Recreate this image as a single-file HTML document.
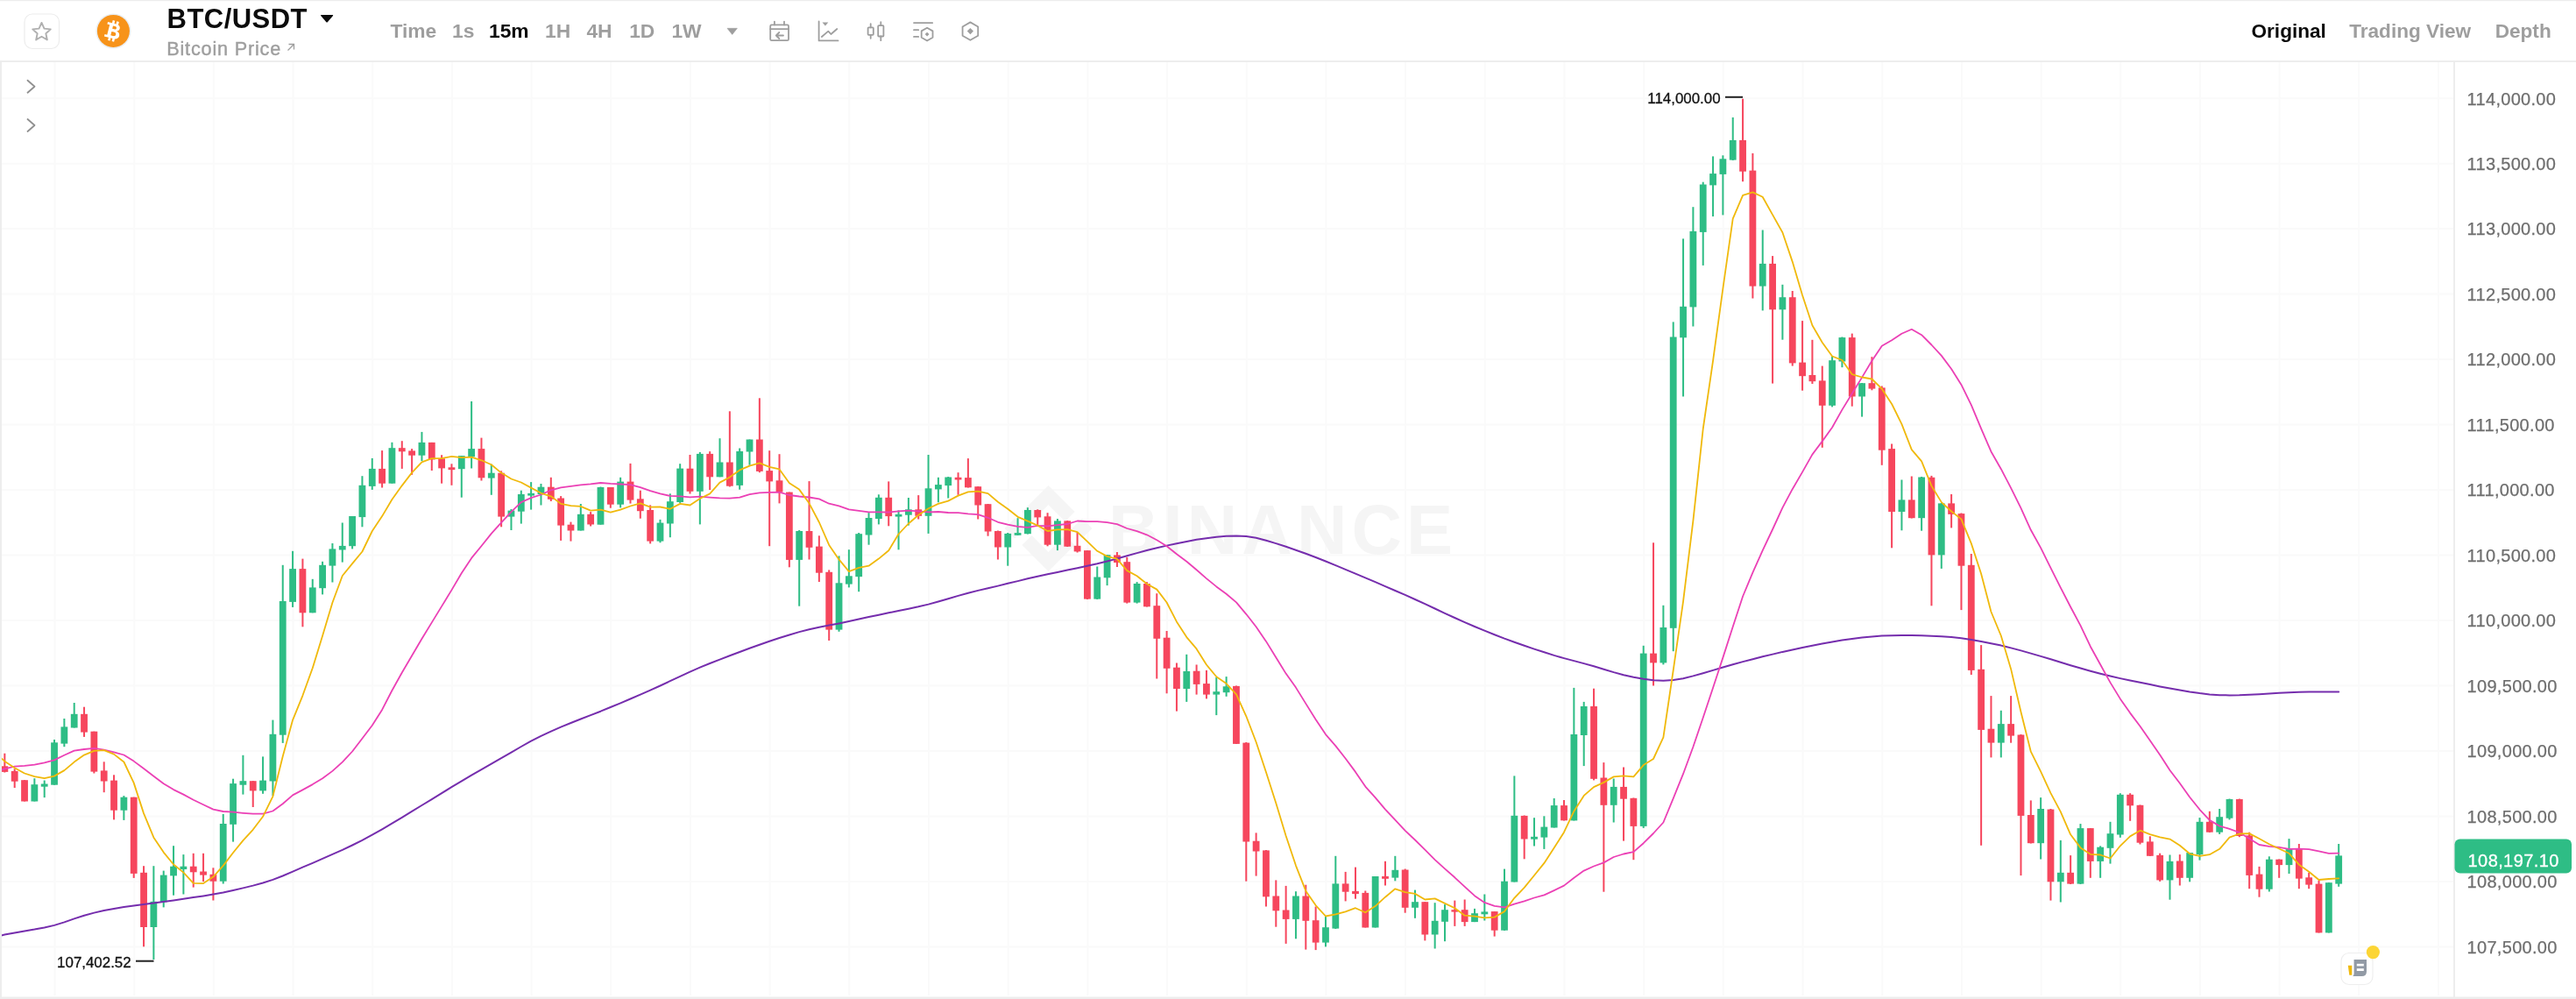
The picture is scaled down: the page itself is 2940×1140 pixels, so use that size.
<!DOCTYPE html>
<html><head><meta charset="utf-8"><title>BTC/USDT</title>
<style>html,body{margin:0;padding:0;background:#fff;width:2940px;height:1140px;overflow:hidden;font-family:"Liberation Sans",sans-serif}</style>
</head><body>
<svg width="2940" height="1140" viewBox="0 0 2940 1140" style="position:absolute;left:0;top:0;will-change:transform">
<rect width="2940" height="1140" fill="#fff"/>
<g stroke="#FAFAFA" stroke-width="2">
<line x1="62.5" y1="71" x2="62.5" y2="1136"/>
<line x1="153.2" y1="71" x2="153.2" y2="1136"/>
<line x1="243.8" y1="71" x2="243.8" y2="1136"/>
<line x1="334.5" y1="71" x2="334.5" y2="1136"/>
<line x1="425.2" y1="71" x2="425.2" y2="1136"/>
<line x1="515.9" y1="71" x2="515.9" y2="1136"/>
<line x1="606.6" y1="71" x2="606.6" y2="1136"/>
<line x1="697.3" y1="71" x2="697.3" y2="1136"/>
<line x1="787.9" y1="71" x2="787.9" y2="1136"/>
<line x1="878.6" y1="71" x2="878.6" y2="1136"/>
<line x1="969.3" y1="71" x2="969.3" y2="1136"/>
<line x1="1060.0" y1="71" x2="1060.0" y2="1136"/>
<line x1="1150.7" y1="71" x2="1150.7" y2="1136"/>
<line x1="1241.4" y1="71" x2="1241.4" y2="1136"/>
<line x1="1332.1" y1="71" x2="1332.1" y2="1136"/>
<line x1="1422.7" y1="71" x2="1422.7" y2="1136"/>
<line x1="1513.4" y1="71" x2="1513.4" y2="1136"/>
<line x1="1604.1" y1="71" x2="1604.1" y2="1136"/>
<line x1="1694.8" y1="71" x2="1694.8" y2="1136"/>
<line x1="1785.5" y1="71" x2="1785.5" y2="1136"/>
<line x1="1876.2" y1="71" x2="1876.2" y2="1136"/>
<line x1="1966.8" y1="71" x2="1966.8" y2="1136"/>
<line x1="2057.5" y1="71" x2="2057.5" y2="1136"/>
<line x1="2148.2" y1="71" x2="2148.2" y2="1136"/>
<line x1="2238.9" y1="71" x2="2238.9" y2="1136"/>
<line x1="2329.6" y1="71" x2="2329.6" y2="1136"/>
<line x1="2420.3" y1="71" x2="2420.3" y2="1136"/>
<line x1="2510.9" y1="71" x2="2510.9" y2="1136"/>
<line x1="2601.6" y1="71" x2="2601.6" y2="1136"/>
<line x1="2692.3" y1="71" x2="2692.3" y2="1136"/>
<line x1="2783.0" y1="71" x2="2783.0" y2="1136"/>
<line x1="2" y1="112.2" x2="2800" y2="112.2"/>
<line x1="2" y1="186.7" x2="2800" y2="186.7"/>
<line x1="2" y1="261.1" x2="2800" y2="261.1"/>
<line x1="2" y1="335.6" x2="2800" y2="335.6"/>
<line x1="2" y1="410.1" x2="2800" y2="410.1"/>
<line x1="2" y1="484.6" x2="2800" y2="484.6"/>
<line x1="2" y1="559.1" x2="2800" y2="559.1"/>
<line x1="2" y1="633.6" x2="2800" y2="633.6"/>
<line x1="2" y1="708.1" x2="2800" y2="708.1"/>
<line x1="2" y1="782.6" x2="2800" y2="782.6"/>
<line x1="2" y1="857.1" x2="2800" y2="857.1"/>
<line x1="2" y1="931.6" x2="2800" y2="931.6"/>
<line x1="2" y1="1006.1" x2="2800" y2="1006.1"/>
<line x1="2" y1="1080.6" x2="2800" y2="1080.6"/>
</g>
<g fill="#F5F5F5">
<path d="M1196.5,554 L1226.5,584 L1215.5,595 L1196.5,576 L1177.5,595 L1166.5,584 Z"/>
<path d="M1196.5,652 L1226.5,622 L1215.5,611 L1196.5,630 L1177.5,611 L1166.5,622 Z"/>
<path d="M1196.5,591.5 L1208.0,603 L1196.5,614.5 L1185.0,603 Z"/>
<path d="M1158.0,591.5 L1169.5,603 L1158.0,614.5 L1146.5,603 Z"/>
<path d="M1235.0,591.5 L1246.5,603 L1235.0,614.5 L1223.5,603 Z"/>
<text x="1265" y="632.2" font-family="Liberation Sans, sans-serif" font-weight="bold" font-size="79.6" letter-spacing="5.1">BINANCE</text>
</g>
<rect x="4.35" y="859.7" width="2" height="21.8" fill="#F6465D"/>
<rect x="1.45" y="874.3" width="7.8" height="6.6" fill="#F6465D"/>
<rect x="15.69" y="877.3" width="2" height="21.7" fill="#F6465D"/>
<rect x="12.79" y="879.9" width="7.8" height="11.8" fill="#F6465D"/>
<rect x="27.02" y="890.2" width="2" height="24.3" fill="#F6465D"/>
<rect x="24.12" y="890.2" width="7.8" height="24.3" fill="#F6465D"/>
<rect x="38.36" y="888.2" width="2" height="26.3" fill="#2EBD85"/>
<rect x="35.46" y="895.2" width="7.8" height="19.3" fill="#2EBD85"/>
<rect x="49.69" y="890.5" width="2" height="19.6" fill="#2EBD85"/>
<rect x="46.79" y="894.5" width="7.8" height="3.2" fill="#2EBD85"/>
<rect x="61.03" y="844.0" width="2" height="51.7" fill="#2EBD85"/>
<rect x="58.13" y="847.3" width="7.8" height="48.4" fill="#2EBD85"/>
<rect x="72.36" y="820.0" width="2" height="32.2" fill="#2EBD85"/>
<rect x="69.46" y="829.4" width="7.8" height="19.2" fill="#2EBD85"/>
<rect x="83.70" y="802.0" width="2" height="28.5" fill="#2EBD85"/>
<rect x="80.80" y="814.8" width="7.8" height="15.7" fill="#2EBD85"/>
<rect x="95.03" y="806.7" width="2" height="34.2" fill="#F6465D"/>
<rect x="92.13" y="814.8" width="7.8" height="20.8" fill="#F6465D"/>
<rect x="106.37" y="834.7" width="2" height="47.8" fill="#F6465D"/>
<rect x="103.47" y="834.7" width="7.8" height="45.9" fill="#F6465D"/>
<rect x="117.70" y="869.3" width="2" height="34.9" fill="#F6465D"/>
<rect x="114.80" y="879.4" width="7.8" height="12.1" fill="#F6465D"/>
<rect x="129.04" y="884.3" width="2" height="51.1" fill="#F6465D"/>
<rect x="126.14" y="890.6" width="7.8" height="34.1" fill="#F6465D"/>
<rect x="140.38" y="908.1" width="2" height="27.8" fill="#2EBD85"/>
<rect x="137.48" y="909.7" width="7.8" height="15.0" fill="#2EBD85"/>
<rect x="151.71" y="909.7" width="2" height="92.2" fill="#F6465D"/>
<rect x="148.81" y="909.7" width="7.8" height="87.2" fill="#F6465D"/>
<rect x="163.05" y="988.2" width="2" height="92.1" fill="#F6465D"/>
<rect x="160.15" y="995.8" width="7.8" height="62.2" fill="#F6465D"/>
<rect x="174.38" y="988.2" width="2" height="106.8" fill="#2EBD85"/>
<rect x="171.48" y="1028.8" width="7.8" height="29.2" fill="#2EBD85"/>
<rect x="185.72" y="993.6" width="2" height="41.8" fill="#2EBD85"/>
<rect x="182.82" y="998.6" width="7.8" height="30.9" fill="#2EBD85"/>
<rect x="197.05" y="965.2" width="2" height="56.5" fill="#2EBD85"/>
<rect x="194.15" y="988.7" width="7.8" height="10.7" fill="#2EBD85"/>
<rect x="208.39" y="975.1" width="2" height="45.4" fill="#2EBD85"/>
<rect x="205.49" y="988.7" width="7.8" height="3.3" fill="#2EBD85"/>
<rect x="219.72" y="973.8" width="2" height="38.8" fill="#F6465D"/>
<rect x="216.82" y="988.7" width="7.8" height="6.6" fill="#F6465D"/>
<rect x="231.06" y="973.8" width="2" height="32.2" fill="#F6465D"/>
<rect x="228.16" y="994.5" width="7.8" height="4.1" fill="#F6465D"/>
<rect x="242.40" y="990.3" width="2" height="37.2" fill="#F6465D"/>
<rect x="239.50" y="997.8" width="7.8" height="7.9" fill="#F6465D"/>
<rect x="253.73" y="929.0" width="2" height="79.5" fill="#2EBD85"/>
<rect x="250.83" y="940.0" width="7.8" height="65.7" fill="#2EBD85"/>
<rect x="265.07" y="888.7" width="2" height="71.9" fill="#2EBD85"/>
<rect x="262.17" y="894.1" width="7.8" height="46.7" fill="#2EBD85"/>
<rect x="276.40" y="861.8" width="2" height="44.8" fill="#2EBD85"/>
<rect x="273.50" y="891.2" width="7.8" height="4.5" fill="#2EBD85"/>
<rect x="287.74" y="891.2" width="2" height="29.8" fill="#F6465D"/>
<rect x="284.84" y="891.2" width="7.8" height="11.2" fill="#F6465D"/>
<rect x="299.07" y="863.4" width="2" height="42.4" fill="#2EBD85"/>
<rect x="296.17" y="890.6" width="7.8" height="11.8" fill="#2EBD85"/>
<rect x="310.41" y="821.6" width="2" height="86.5" fill="#2EBD85"/>
<rect x="307.51" y="837.8" width="7.8" height="53.7" fill="#2EBD85"/>
<rect x="321.74" y="644.8" width="2" height="203.1" fill="#2EBD85"/>
<rect x="318.84" y="686.0" width="7.8" height="152.7" fill="#2EBD85"/>
<rect x="333.08" y="628.8" width="2" height="64.1" fill="#2EBD85"/>
<rect x="330.18" y="649.1" width="7.8" height="37.8" fill="#2EBD85"/>
<rect x="344.42" y="637.6" width="2" height="77.7" fill="#F6465D"/>
<rect x="341.52" y="649.1" width="7.8" height="50.2" fill="#F6465D"/>
<rect x="355.75" y="660.8" width="2" height="38.5" fill="#2EBD85"/>
<rect x="352.85" y="670.4" width="7.8" height="28.9" fill="#2EBD85"/>
<rect x="367.09" y="640.8" width="2" height="37.6" fill="#2EBD85"/>
<rect x="364.19" y="644.8" width="7.8" height="26.4" fill="#2EBD85"/>
<rect x="378.42" y="620.0" width="2" height="44.5" fill="#2EBD85"/>
<rect x="375.52" y="626.4" width="7.8" height="19.2" fill="#2EBD85"/>
<rect x="389.76" y="596.5" width="2" height="45.1" fill="#2EBD85"/>
<rect x="386.86" y="622.9" width="7.8" height="4.6" fill="#2EBD85"/>
<rect x="401.09" y="589.0" width="2" height="37.4" fill="#2EBD85"/>
<rect x="398.19" y="589.0" width="7.8" height="34.2" fill="#2EBD85"/>
<rect x="412.43" y="543.2" width="2" height="58.1" fill="#2EBD85"/>
<rect x="409.53" y="553.8" width="7.8" height="36.3" fill="#2EBD85"/>
<rect x="423.76" y="522.9" width="2" height="36.0" fill="#2EBD85"/>
<rect x="420.86" y="534.9" width="7.8" height="20.0" fill="#2EBD85"/>
<rect x="435.10" y="514.1" width="2" height="42.4" fill="#F6465D"/>
<rect x="432.20" y="534.9" width="7.8" height="16.8" fill="#F6465D"/>
<rect x="446.43" y="504.8" width="2" height="46.9" fill="#2EBD85"/>
<rect x="443.53" y="511.2" width="7.8" height="40.5" fill="#2EBD85"/>
<rect x="457.77" y="503.2" width="2" height="31.7" fill="#F6465D"/>
<rect x="454.87" y="511.2" width="7.8" height="4.1" fill="#F6465D"/>
<rect x="469.11" y="512.1" width="2" height="29.7" fill="#F6465D"/>
<rect x="466.21" y="514.4" width="7.8" height="5.3" fill="#F6465D"/>
<rect x="480.44" y="492.9" width="2" height="33.2" fill="#2EBD85"/>
<rect x="477.54" y="504.9" width="7.8" height="14.8" fill="#2EBD85"/>
<rect x="491.78" y="504.9" width="2" height="32.1" fill="#F6465D"/>
<rect x="488.88" y="504.9" width="7.8" height="19.6" fill="#F6465D"/>
<rect x="503.11" y="519.2" width="2" height="32.5" fill="#F6465D"/>
<rect x="500.21" y="523.3" width="7.8" height="11.1" fill="#F6465D"/>
<rect x="514.45" y="529.3" width="2" height="24.5" fill="#F6465D"/>
<rect x="511.55" y="533.3" width="7.8" height="2.8" fill="#F6465D"/>
<rect x="525.78" y="520.1" width="2" height="47.6" fill="#2EBD85"/>
<rect x="522.88" y="520.1" width="7.8" height="15.1" fill="#2EBD85"/>
<rect x="537.12" y="458.0" width="2" height="76.5" fill="#2EBD85"/>
<rect x="534.22" y="512.1" width="7.8" height="9.2" fill="#2EBD85"/>
<rect x="548.45" y="499.6" width="2" height="48.9" fill="#F6465D"/>
<rect x="545.55" y="512.1" width="7.8" height="33.2" fill="#F6465D"/>
<rect x="559.79" y="529.7" width="2" height="35.1" fill="#2EBD85"/>
<rect x="556.89" y="539.7" width="7.8" height="5.9" fill="#2EBD85"/>
<rect x="571.12" y="537.3" width="2" height="64.0" fill="#F6465D"/>
<rect x="568.23" y="539.7" width="7.8" height="49.9" fill="#F6465D"/>
<rect x="582.46" y="581.0" width="2" height="24.0" fill="#2EBD85"/>
<rect x="579.56" y="582.6" width="7.8" height="7.0" fill="#2EBD85"/>
<rect x="593.80" y="559.7" width="2" height="37.9" fill="#2EBD85"/>
<rect x="590.90" y="564.0" width="7.8" height="19.7" fill="#2EBD85"/>
<rect x="605.13" y="550.1" width="2" height="31.5" fill="#2EBD85"/>
<rect x="602.23" y="562.9" width="7.8" height="2.7" fill="#2EBD85"/>
<rect x="616.47" y="552.0" width="2" height="24.5" fill="#2EBD85"/>
<rect x="613.57" y="555.7" width="7.8" height="8.3" fill="#2EBD85"/>
<rect x="627.80" y="544.8" width="2" height="27.2" fill="#F6465D"/>
<rect x="624.90" y="555.7" width="7.8" height="14.1" fill="#F6465D"/>
<rect x="639.14" y="566.1" width="2" height="50.8" fill="#F6465D"/>
<rect x="636.24" y="568.5" width="7.8" height="31.1" fill="#F6465D"/>
<rect x="650.47" y="595.6" width="2" height="22.0" fill="#F6465D"/>
<rect x="647.57" y="598.7" width="7.8" height="6.8" fill="#F6465D"/>
<rect x="661.81" y="575.0" width="2" height="30.5" fill="#2EBD85"/>
<rect x="658.91" y="586.8" width="7.8" height="18.7" fill="#2EBD85"/>
<rect x="673.14" y="584.1" width="2" height="16.4" fill="#F6465D"/>
<rect x="670.24" y="586.8" width="7.8" height="11.7" fill="#F6465D"/>
<rect x="684.48" y="555.5" width="2" height="43.2" fill="#2EBD85"/>
<rect x="681.58" y="556.0" width="7.8" height="42.7" fill="#2EBD85"/>
<rect x="695.82" y="556.0" width="2" height="23.7" fill="#F6465D"/>
<rect x="692.92" y="556.0" width="7.8" height="19.7" fill="#F6465D"/>
<rect x="707.15" y="544.8" width="2" height="34.6" fill="#2EBD85"/>
<rect x="704.25" y="549.6" width="7.8" height="26.1" fill="#2EBD85"/>
<rect x="718.49" y="528.9" width="2" height="45.7" fill="#F6465D"/>
<rect x="715.59" y="549.6" width="7.8" height="21.0" fill="#F6465D"/>
<rect x="729.82" y="559.7" width="2" height="32.0" fill="#F6465D"/>
<rect x="726.92" y="569.3" width="7.8" height="13.9" fill="#F6465D"/>
<rect x="741.16" y="576.4" width="2" height="44.0" fill="#F6465D"/>
<rect x="738.26" y="582.0" width="7.8" height="35.6" fill="#F6465D"/>
<rect x="752.49" y="592.9" width="2" height="26.4" fill="#2EBD85"/>
<rect x="749.59" y="596.6" width="7.8" height="21.0" fill="#2EBD85"/>
<rect x="763.83" y="563.3" width="2" height="49.9" fill="#2EBD85"/>
<rect x="760.93" y="572.2" width="7.8" height="25.3" fill="#2EBD85"/>
<rect x="775.16" y="529.2" width="2" height="44.7" fill="#2EBD85"/>
<rect x="772.26" y="534.6" width="7.8" height="38.4" fill="#2EBD85"/>
<rect x="786.50" y="519.0" width="2" height="44.5" fill="#F6465D"/>
<rect x="783.60" y="534.7" width="7.8" height="26.1" fill="#F6465D"/>
<rect x="797.84" y="515.9" width="2" height="82.5" fill="#2EBD85"/>
<rect x="794.94" y="517.9" width="7.8" height="42.9" fill="#2EBD85"/>
<rect x="809.17" y="515.1" width="2" height="43.9" fill="#F6465D"/>
<rect x="806.27" y="517.9" width="7.8" height="26.4" fill="#F6465D"/>
<rect x="820.51" y="500.2" width="2" height="44.1" fill="#2EBD85"/>
<rect x="817.61" y="527.5" width="7.8" height="16.8" fill="#2EBD85"/>
<rect x="831.84" y="469.3" width="2" height="86.2" fill="#F6465D"/>
<rect x="828.94" y="527.5" width="7.8" height="27.2" fill="#F6465D"/>
<rect x="843.18" y="511.5" width="2" height="47.2" fill="#2EBD85"/>
<rect x="840.28" y="515.0" width="7.8" height="38.9" fill="#2EBD85"/>
<rect x="854.51" y="501.5" width="2" height="29.2" fill="#2EBD85"/>
<rect x="851.61" y="501.5" width="7.8" height="14.0" fill="#2EBD85"/>
<rect x="865.85" y="454.3" width="2" height="84.9" fill="#F6465D"/>
<rect x="862.95" y="501.5" width="7.8" height="36.4" fill="#F6465D"/>
<rect x="877.18" y="514.2" width="2" height="109.0" fill="#F6465D"/>
<rect x="874.28" y="537.1" width="7.8" height="12.3" fill="#F6465D"/>
<rect x="888.52" y="518.2" width="2" height="56.2" fill="#F6465D"/>
<rect x="885.62" y="548.3" width="7.8" height="13.3" fill="#F6465D"/>
<rect x="899.85" y="561.6" width="2" height="85.7" fill="#F6465D"/>
<rect x="896.95" y="561.6" width="7.8" height="77.3" fill="#F6465D"/>
<rect x="911.19" y="605.0" width="2" height="86.7" fill="#2EBD85"/>
<rect x="908.29" y="606.0" width="7.8" height="32.9" fill="#2EBD85"/>
<rect x="922.53" y="549.1" width="2" height="89.4" fill="#F6465D"/>
<rect x="919.63" y="606.0" width="7.8" height="18.8" fill="#F6465D"/>
<rect x="933.86" y="611.3" width="2" height="52.7" fill="#F6465D"/>
<rect x="930.96" y="623.6" width="7.8" height="30.1" fill="#F6465D"/>
<rect x="945.20" y="650.4" width="2" height="80.6" fill="#F6465D"/>
<rect x="942.30" y="652.8" width="7.8" height="65.8" fill="#F6465D"/>
<rect x="956.53" y="634.4" width="2" height="86.4" fill="#2EBD85"/>
<rect x="953.63" y="665.3" width="7.8" height="53.3" fill="#2EBD85"/>
<rect x="967.87" y="627.2" width="2" height="43.2" fill="#2EBD85"/>
<rect x="964.97" y="657.3" width="7.8" height="9.3" fill="#2EBD85"/>
<rect x="979.20" y="608.0" width="2" height="67.2" fill="#2EBD85"/>
<rect x="976.30" y="609.2" width="7.8" height="48.9" fill="#2EBD85"/>
<rect x="990.54" y="585.1" width="2" height="36.6" fill="#2EBD85"/>
<rect x="987.64" y="591.0" width="7.8" height="19.5" fill="#2EBD85"/>
<rect x="1001.87" y="564.3" width="2" height="34.1" fill="#2EBD85"/>
<rect x="998.97" y="567.8" width="7.8" height="24.2" fill="#2EBD85"/>
<rect x="1013.21" y="549.4" width="2" height="50.9" fill="#F6465D"/>
<rect x="1010.31" y="567.8" width="7.8" height="21.3" fill="#F6465D"/>
<rect x="1024.54" y="582.4" width="2" height="44.9" fill="#2EBD85"/>
<rect x="1021.64" y="586.9" width="7.8" height="2.7" fill="#2EBD85"/>
<rect x="1035.88" y="568.0" width="2" height="31.6" fill="#2EBD85"/>
<rect x="1032.98" y="581.3" width="7.8" height="6.4" fill="#2EBD85"/>
<rect x="1047.22" y="565.1" width="2" height="27.4" fill="#F6465D"/>
<rect x="1044.32" y="581.3" width="7.8" height="7.5" fill="#F6465D"/>
<rect x="1058.55" y="519.0" width="2" height="89.9" fill="#2EBD85"/>
<rect x="1055.65" y="557.3" width="7.8" height="31.5" fill="#2EBD85"/>
<rect x="1069.89" y="544.8" width="2" height="28.5" fill="#2EBD85"/>
<rect x="1066.99" y="553.1" width="7.8" height="5.3" fill="#2EBD85"/>
<rect x="1081.22" y="544.0" width="2" height="24.5" fill="#2EBD85"/>
<rect x="1078.32" y="544.5" width="7.8" height="9.6" fill="#2EBD85"/>
<rect x="1092.56" y="539.2" width="2" height="25.6" fill="#F6465D"/>
<rect x="1089.66" y="544.8" width="7.8" height="2.7" fill="#F6465D"/>
<rect x="1103.89" y="523.1" width="2" height="33.4" fill="#F6465D"/>
<rect x="1100.99" y="545.1" width="7.8" height="11.2" fill="#F6465D"/>
<rect x="1115.23" y="555.0" width="2" height="37.5" fill="#F6465D"/>
<rect x="1112.33" y="555.2" width="7.8" height="21.3" fill="#F6465D"/>
<rect x="1126.56" y="575.0" width="2" height="36.7" fill="#F6465D"/>
<rect x="1123.66" y="575.2" width="7.8" height="31.3" fill="#F6465D"/>
<rect x="1137.90" y="605.5" width="2" height="33.0" fill="#F6465D"/>
<rect x="1135.00" y="606.0" width="7.8" height="18.5" fill="#F6465D"/>
<rect x="1149.24" y="608.0" width="2" height="37.7" fill="#2EBD85"/>
<rect x="1146.34" y="608.9" width="7.8" height="15.6" fill="#2EBD85"/>
<rect x="1160.57" y="591.2" width="2" height="19.8" fill="#2EBD85"/>
<rect x="1157.67" y="608.1" width="7.8" height="2.7" fill="#2EBD85"/>
<rect x="1171.91" y="579.2" width="2" height="30.3" fill="#2EBD85"/>
<rect x="1169.01" y="582.0" width="7.8" height="27.2" fill="#2EBD85"/>
<rect x="1183.24" y="581.3" width="2" height="17.9" fill="#F6465D"/>
<rect x="1180.34" y="582.0" width="7.8" height="8.4" fill="#F6465D"/>
<rect x="1194.58" y="585.2" width="2" height="38.1" fill="#F6465D"/>
<rect x="1191.68" y="589.3" width="7.8" height="32.4" fill="#F6465D"/>
<rect x="1205.91" y="592.0" width="2" height="36.1" fill="#2EBD85"/>
<rect x="1203.01" y="594.4" width="7.8" height="27.3" fill="#2EBD85"/>
<rect x="1217.25" y="594.0" width="2" height="30.0" fill="#F6465D"/>
<rect x="1214.35" y="594.4" width="7.8" height="29.3" fill="#F6465D"/>
<rect x="1228.58" y="607.3" width="2" height="23.2" fill="#F6465D"/>
<rect x="1225.68" y="622.8" width="7.8" height="6.6" fill="#F6465D"/>
<rect x="1239.92" y="628.0" width="2" height="56.0" fill="#F6465D"/>
<rect x="1237.02" y="628.1" width="7.8" height="55.5" fill="#F6465D"/>
<rect x="1251.25" y="646.5" width="2" height="37.5" fill="#2EBD85"/>
<rect x="1248.35" y="658.5" width="7.8" height="25.1" fill="#2EBD85"/>
<rect x="1262.59" y="633.0" width="2" height="35.1" fill="#2EBD85"/>
<rect x="1259.69" y="633.2" width="7.8" height="26.1" fill="#2EBD85"/>
<rect x="1273.93" y="630.0" width="2" height="17.0" fill="#F6465D"/>
<rect x="1271.03" y="633.4" width="7.8" height="8.6" fill="#F6465D"/>
<rect x="1285.26" y="635.8" width="2" height="52.8" fill="#F6465D"/>
<rect x="1282.36" y="641.2" width="7.8" height="46.4" fill="#F6465D"/>
<rect x="1296.60" y="664.1" width="2" height="24.5" fill="#2EBD85"/>
<rect x="1293.70" y="666.0" width="7.8" height="21.6" fill="#2EBD85"/>
<rect x="1307.93" y="664.1" width="2" height="28.4" fill="#F6465D"/>
<rect x="1305.03" y="666.0" width="7.8" height="26.3" fill="#F6465D"/>
<rect x="1319.27" y="677.2" width="2" height="97.3" fill="#F6465D"/>
<rect x="1316.37" y="691.2" width="7.8" height="37.6" fill="#F6465D"/>
<rect x="1330.60" y="720.0" width="2" height="71.3" fill="#F6465D"/>
<rect x="1327.70" y="727.7" width="7.8" height="35.1" fill="#F6465D"/>
<rect x="1341.94" y="756.5" width="2" height="55.1" fill="#F6465D"/>
<rect x="1339.04" y="761.7" width="7.8" height="24.3" fill="#F6465D"/>
<rect x="1353.27" y="746.8" width="2" height="54.1" fill="#2EBD85"/>
<rect x="1350.37" y="766.0" width="7.8" height="20.0" fill="#2EBD85"/>
<rect x="1364.61" y="758.5" width="2" height="34.1" fill="#F6465D"/>
<rect x="1361.71" y="765.7" width="7.8" height="15.2" fill="#F6465D"/>
<rect x="1375.95" y="764.9" width="2" height="32.5" fill="#F6465D"/>
<rect x="1373.05" y="780.1" width="7.8" height="12.5" fill="#F6465D"/>
<rect x="1387.28" y="772.9" width="2" height="43.2" fill="#2EBD85"/>
<rect x="1384.38" y="789.2" width="7.8" height="3.4" fill="#2EBD85"/>
<rect x="1398.62" y="772.1" width="2" height="22.7" fill="#2EBD85"/>
<rect x="1395.72" y="783.3" width="7.8" height="6.9" fill="#2EBD85"/>
<rect x="1409.95" y="782.5" width="2" height="66.5" fill="#F6465D"/>
<rect x="1407.05" y="782.9" width="7.8" height="66.0" fill="#F6465D"/>
<rect x="1421.29" y="847.0" width="2" height="158.7" fill="#F6465D"/>
<rect x="1418.39" y="847.6" width="7.8" height="112.9" fill="#F6465D"/>
<rect x="1432.62" y="950.4" width="2" height="49.2" fill="#F6465D"/>
<rect x="1429.72" y="959.7" width="7.8" height="11.8" fill="#F6465D"/>
<rect x="1443.96" y="970.0" width="2" height="64.5" fill="#F6465D"/>
<rect x="1441.06" y="970.4" width="7.8" height="52.9" fill="#F6465D"/>
<rect x="1455.29" y="1004.4" width="2" height="53.3" fill="#F6465D"/>
<rect x="1452.39" y="1022.5" width="7.8" height="16.8" fill="#F6465D"/>
<rect x="1466.63" y="1010.9" width="2" height="66.0" fill="#F6465D"/>
<rect x="1463.73" y="1038.5" width="7.8" height="10.4" fill="#F6465D"/>
<rect x="1477.96" y="1017.2" width="2" height="54.1" fill="#2EBD85"/>
<rect x="1475.06" y="1022.5" width="7.8" height="26.4" fill="#2EBD85"/>
<rect x="1489.30" y="1009.7" width="2" height="73.9" fill="#F6465D"/>
<rect x="1486.40" y="1022.5" width="7.8" height="28.3" fill="#F6465D"/>
<rect x="1500.64" y="1034.5" width="2" height="49.6" fill="#F6465D"/>
<rect x="1497.74" y="1050.2" width="7.8" height="25.4" fill="#F6465D"/>
<rect x="1511.97" y="1045.7" width="2" height="34.7" fill="#2EBD85"/>
<rect x="1509.07" y="1058.2" width="7.8" height="17.4" fill="#2EBD85"/>
<rect x="1523.31" y="976.8" width="2" height="83.2" fill="#2EBD85"/>
<rect x="1520.41" y="1008.4" width="7.8" height="51.2" fill="#2EBD85"/>
<rect x="1534.64" y="994.9" width="2" height="33.5" fill="#F6465D"/>
<rect x="1531.74" y="1008.4" width="7.8" height="9.3" fill="#F6465D"/>
<rect x="1545.98" y="989.6" width="2" height="36.1" fill="#F6465D"/>
<rect x="1543.08" y="1016.9" width="7.8" height="3.2" fill="#F6465D"/>
<rect x="1557.31" y="1016.5" width="2" height="42.0" fill="#F6465D"/>
<rect x="1554.41" y="1018.9" width="7.8" height="39.6" fill="#F6465D"/>
<rect x="1568.65" y="1000.0" width="2" height="58.5" fill="#2EBD85"/>
<rect x="1565.75" y="1000.0" width="7.8" height="58.5" fill="#2EBD85"/>
<rect x="1579.98" y="982.8" width="2" height="27.7" fill="#F6465D"/>
<rect x="1577.08" y="1000.0" width="7.8" height="2.8" fill="#F6465D"/>
<rect x="1591.32" y="976.8" width="2" height="28.5" fill="#2EBD85"/>
<rect x="1588.42" y="992.8" width="7.8" height="8.8" fill="#2EBD85"/>
<rect x="1602.66" y="991.5" width="2" height="50.2" fill="#F6465D"/>
<rect x="1599.76" y="992.5" width="7.8" height="43.3" fill="#F6465D"/>
<rect x="1613.99" y="1015.6" width="2" height="32.2" fill="#2EBD85"/>
<rect x="1611.09" y="1029.2" width="7.8" height="6.6" fill="#2EBD85"/>
<rect x="1625.33" y="1029.2" width="2" height="44.2" fill="#F6465D"/>
<rect x="1622.43" y="1029.2" width="7.8" height="37.3" fill="#F6465D"/>
<rect x="1636.66" y="1030.2" width="2" height="52.3" fill="#2EBD85"/>
<rect x="1633.76" y="1050.8" width="7.8" height="15.7" fill="#2EBD85"/>
<rect x="1648.00" y="1032.1" width="2" height="42.1" fill="#2EBD85"/>
<rect x="1645.10" y="1038.2" width="7.8" height="13.6" fill="#2EBD85"/>
<rect x="1659.33" y="1027.6" width="2" height="29.3" fill="#F6465D"/>
<rect x="1656.43" y="1038.2" width="7.8" height="2.4" fill="#F6465D"/>
<rect x="1670.67" y="1026.5" width="2" height="30.4" fill="#F6465D"/>
<rect x="1667.77" y="1038.2" width="7.8" height="13.9" fill="#F6465D"/>
<rect x="1682.00" y="1036.9" width="2" height="15.2" fill="#2EBD85"/>
<rect x="1679.10" y="1042.2" width="7.8" height="9.9" fill="#2EBD85"/>
<rect x="1693.34" y="1020.5" width="2" height="30.0" fill="#2EBD85"/>
<rect x="1690.44" y="1040.4" width="7.8" height="2.9" fill="#2EBD85"/>
<rect x="1704.67" y="1040.1" width="2" height="28.5" fill="#F6465D"/>
<rect x="1701.77" y="1040.1" width="7.8" height="21.6" fill="#F6465D"/>
<rect x="1716.01" y="991.6" width="2" height="70.4" fill="#2EBD85"/>
<rect x="1713.11" y="1005.7" width="7.8" height="56.0" fill="#2EBD85"/>
<rect x="1727.35" y="885.4" width="2" height="121.1" fill="#2EBD85"/>
<rect x="1724.45" y="930.8" width="7.8" height="75.7" fill="#2EBD85"/>
<rect x="1738.68" y="930.5" width="2" height="49.8" fill="#F6465D"/>
<rect x="1735.78" y="930.9" width="7.8" height="26.6" fill="#F6465D"/>
<rect x="1750.02" y="933.2" width="2" height="32.3" fill="#2EBD85"/>
<rect x="1747.12" y="954.8" width="7.8" height="2.9" fill="#2EBD85"/>
<rect x="1761.35" y="931.3" width="2" height="37.6" fill="#2EBD85"/>
<rect x="1758.45" y="943.6" width="7.8" height="12.0" fill="#2EBD85"/>
<rect x="1772.69" y="911.0" width="2" height="33.5" fill="#2EBD85"/>
<rect x="1769.79" y="919.1" width="7.8" height="25.4" fill="#2EBD85"/>
<rect x="1784.02" y="913.0" width="2" height="23.5" fill="#F6465D"/>
<rect x="1781.12" y="919.1" width="7.8" height="17.2" fill="#F6465D"/>
<rect x="1795.36" y="784.9" width="2" height="151.6" fill="#2EBD85"/>
<rect x="1792.46" y="838.0" width="7.8" height="98.4" fill="#2EBD85"/>
<rect x="1806.69" y="800.9" width="2" height="73.2" fill="#2EBD85"/>
<rect x="1803.79" y="806.0" width="7.8" height="33.0" fill="#2EBD85"/>
<rect x="1818.03" y="785.7" width="2" height="104.7" fill="#F6465D"/>
<rect x="1815.13" y="806.0" width="7.8" height="82.8" fill="#F6465D"/>
<rect x="1829.37" y="870.1" width="2" height="147.6" fill="#F6465D"/>
<rect x="1826.47" y="887.5" width="7.8" height="31.3" fill="#F6465D"/>
<rect x="1840.70" y="888.5" width="2" height="50.0" fill="#2EBD85"/>
<rect x="1837.80" y="897.9" width="7.8" height="20.9" fill="#2EBD85"/>
<rect x="1852.04" y="875.5" width="2" height="84.1" fill="#F6465D"/>
<rect x="1849.14" y="897.9" width="7.8" height="13.8" fill="#F6465D"/>
<rect x="1863.37" y="910.5" width="2" height="70.7" fill="#F6465D"/>
<rect x="1860.47" y="910.8" width="7.8" height="32.1" fill="#F6465D"/>
<rect x="1874.71" y="736.8" width="2" height="208.1" fill="#2EBD85"/>
<rect x="1871.81" y="745.6" width="7.8" height="197.3" fill="#2EBD85"/>
<rect x="1886.04" y="619.3" width="2" height="163.2" fill="#F6465D"/>
<rect x="1883.14" y="745.6" width="7.8" height="10.8" fill="#F6465D"/>
<rect x="1897.38" y="690.8" width="2" height="67.6" fill="#2EBD85"/>
<rect x="1894.48" y="716.0" width="7.8" height="40.4" fill="#2EBD85"/>
<rect x="1908.71" y="367.4" width="2" height="375.8" fill="#2EBD85"/>
<rect x="1905.81" y="384.5" width="7.8" height="332.3" fill="#2EBD85"/>
<rect x="1920.05" y="272.4" width="2" height="180.1" fill="#2EBD85"/>
<rect x="1917.15" y="349.8" width="7.8" height="35.5" fill="#2EBD85"/>
<rect x="1931.38" y="236.2" width="2" height="136.3" fill="#2EBD85"/>
<rect x="1928.48" y="263.9" width="7.8" height="86.5" fill="#2EBD85"/>
<rect x="1942.72" y="207.7" width="2" height="95.2" fill="#2EBD85"/>
<rect x="1939.82" y="210.5" width="7.8" height="54.4" fill="#2EBD85"/>
<rect x="1954.06" y="178.4" width="2" height="68.6" fill="#2EBD85"/>
<rect x="1951.16" y="198.1" width="7.8" height="13.3" fill="#2EBD85"/>
<rect x="1965.39" y="177.3" width="2" height="68.1" fill="#2EBD85"/>
<rect x="1962.49" y="181.3" width="7.8" height="17.6" fill="#2EBD85"/>
<rect x="1976.73" y="134.0" width="2" height="49.0" fill="#2EBD85"/>
<rect x="1973.83" y="160.0" width="7.8" height="22.6" fill="#2EBD85"/>
<rect x="1988.06" y="112.7" width="2" height="94.5" fill="#F6465D"/>
<rect x="1985.16" y="160.0" width="7.8" height="35.7" fill="#F6465D"/>
<rect x="1999.40" y="174.9" width="2" height="165.6" fill="#F6465D"/>
<rect x="1996.50" y="194.6" width="7.8" height="132.0" fill="#F6465D"/>
<rect x="2010.73" y="262.5" width="2" height="91.9" fill="#2EBD85"/>
<rect x="2007.83" y="300.9" width="7.8" height="25.7" fill="#2EBD85"/>
<rect x="2022.07" y="292.1" width="2" height="145.5" fill="#F6465D"/>
<rect x="2019.17" y="300.9" width="7.8" height="52.4" fill="#F6465D"/>
<rect x="2033.40" y="324.8" width="2" height="62.9" fill="#2EBD85"/>
<rect x="2030.50" y="339.2" width="7.8" height="14.1" fill="#2EBD85"/>
<rect x="2044.74" y="332.0" width="2" height="85.6" fill="#F6465D"/>
<rect x="2041.84" y="339.2" width="7.8" height="75.2" fill="#F6465D"/>
<rect x="2056.08" y="366.1" width="2" height="79.6" fill="#F6465D"/>
<rect x="2053.18" y="413.6" width="7.8" height="15.6" fill="#F6465D"/>
<rect x="2067.41" y="387.8" width="2" height="50.2" fill="#F6465D"/>
<rect x="2064.51" y="428.0" width="7.8" height="7.2" fill="#F6465D"/>
<rect x="2078.75" y="417.6" width="2" height="93.2" fill="#F6465D"/>
<rect x="2075.85" y="434.4" width="7.8" height="28.4" fill="#F6465D"/>
<rect x="2090.08" y="406.4" width="2" height="58.0" fill="#2EBD85"/>
<rect x="2087.18" y="411.2" width="7.8" height="51.6" fill="#2EBD85"/>
<rect x="2101.42" y="384.5" width="2" height="34.7" fill="#2EBD85"/>
<rect x="2098.52" y="385.1" width="7.8" height="27.4" fill="#2EBD85"/>
<rect x="2112.75" y="380.6" width="2" height="83.1" fill="#F6465D"/>
<rect x="2109.85" y="385.1" width="7.8" height="67.4" fill="#F6465D"/>
<rect x="2124.09" y="437.0" width="2" height="38.6" fill="#2EBD85"/>
<rect x="2121.19" y="437.2" width="7.8" height="15.3" fill="#2EBD85"/>
<rect x="2135.42" y="407.2" width="2" height="38.1" fill="#F6465D"/>
<rect x="2132.52" y="437.2" width="7.8" height="6.4" fill="#F6465D"/>
<rect x="2146.76" y="440.5" width="2" height="90.3" fill="#F6465D"/>
<rect x="2143.86" y="442.4" width="7.8" height="71.3" fill="#F6465D"/>
<rect x="2158.09" y="506.5" width="2" height="118.8" fill="#F6465D"/>
<rect x="2155.19" y="512.1" width="7.8" height="71.9" fill="#F6465D"/>
<rect x="2169.43" y="547.5" width="2" height="57.8" fill="#2EBD85"/>
<rect x="2166.53" y="570.4" width="7.8" height="13.6" fill="#2EBD85"/>
<rect x="2180.77" y="543.5" width="2" height="48.0" fill="#F6465D"/>
<rect x="2177.87" y="570.4" width="7.8" height="20.8" fill="#F6465D"/>
<rect x="2192.10" y="544.0" width="2" height="61.7" fill="#2EBD85"/>
<rect x="2189.20" y="544.5" width="7.8" height="46.7" fill="#2EBD85"/>
<rect x="2203.44" y="542.9" width="2" height="148.4" fill="#F6465D"/>
<rect x="2200.54" y="544.8" width="7.8" height="88.6" fill="#F6465D"/>
<rect x="2214.77" y="574.0" width="2" height="74.9" fill="#2EBD85"/>
<rect x="2211.87" y="574.4" width="7.8" height="59.0" fill="#2EBD85"/>
<rect x="2226.11" y="564.0" width="2" height="38.4" fill="#F6465D"/>
<rect x="2223.21" y="574.4" width="7.8" height="12.5" fill="#F6465D"/>
<rect x="2237.44" y="585.5" width="2" height="110.6" fill="#F6465D"/>
<rect x="2234.54" y="586.1" width="7.8" height="59.6" fill="#F6465D"/>
<rect x="2248.78" y="632.0" width="2" height="138.0" fill="#F6465D"/>
<rect x="2245.88" y="644.8" width="7.8" height="120.1" fill="#F6465D"/>
<rect x="2260.11" y="736.1" width="2" height="228.7" fill="#F6465D"/>
<rect x="2257.21" y="763.8" width="7.8" height="69.1" fill="#F6465D"/>
<rect x="2271.45" y="794.1" width="2" height="70.3" fill="#F6465D"/>
<rect x="2268.55" y="831.7" width="7.8" height="15.9" fill="#F6465D"/>
<rect x="2282.79" y="810.8" width="2" height="53.6" fill="#2EBD85"/>
<rect x="2279.89" y="826.1" width="7.8" height="21.5" fill="#2EBD85"/>
<rect x="2294.12" y="794.1" width="2" height="53.6" fill="#F6465D"/>
<rect x="2291.22" y="826.1" width="7.8" height="13.5" fill="#F6465D"/>
<rect x="2305.46" y="838.0" width="2" height="161.1" fill="#F6465D"/>
<rect x="2302.56" y="838.5" width="7.8" height="92.4" fill="#F6465D"/>
<rect x="2316.79" y="913.4" width="2" height="49.1" fill="#F6465D"/>
<rect x="2313.89" y="930.0" width="7.8" height="32.2" fill="#F6465D"/>
<rect x="2328.13" y="910.1" width="2" height="70.4" fill="#2EBD85"/>
<rect x="2325.23" y="923.0" width="7.8" height="39.2" fill="#2EBD85"/>
<rect x="2339.46" y="923.0" width="2" height="104.6" fill="#F6465D"/>
<rect x="2336.56" y="923.6" width="7.8" height="82.7" fill="#F6465D"/>
<rect x="2350.80" y="958.9" width="2" height="70.6" fill="#2EBD85"/>
<rect x="2347.90" y="995.8" width="7.8" height="10.5" fill="#2EBD85"/>
<rect x="2362.13" y="976.1" width="2" height="32.9" fill="#F6465D"/>
<rect x="2359.23" y="995.8" width="7.8" height="12.8" fill="#F6465D"/>
<rect x="2373.47" y="940.1" width="2" height="68.9" fill="#2EBD85"/>
<rect x="2370.57" y="945.1" width="7.8" height="63.5" fill="#2EBD85"/>
<rect x="2384.80" y="945.0" width="2" height="56.8" fill="#F6465D"/>
<rect x="2381.90" y="945.1" width="7.8" height="37.8" fill="#F6465D"/>
<rect x="2396.14" y="965.4" width="2" height="36.4" fill="#2EBD85"/>
<rect x="2393.24" y="966.7" width="7.8" height="16.2" fill="#2EBD85"/>
<rect x="2407.48" y="937.8" width="2" height="47.8" fill="#2EBD85"/>
<rect x="2404.58" y="951.2" width="7.8" height="16.6" fill="#2EBD85"/>
<rect x="2418.81" y="905.2" width="2" height="50.6" fill="#2EBD85"/>
<rect x="2415.91" y="906.8" width="7.8" height="45.7" fill="#2EBD85"/>
<rect x="2430.15" y="905.2" width="2" height="31.6" fill="#F6465D"/>
<rect x="2427.25" y="906.8" width="7.8" height="12.5" fill="#F6465D"/>
<rect x="2441.48" y="918.5" width="2" height="45.0" fill="#F6465D"/>
<rect x="2438.58" y="918.8" width="7.8" height="42.9" fill="#F6465D"/>
<rect x="2452.82" y="954.3" width="2" height="22.7" fill="#F6465D"/>
<rect x="2449.92" y="960.4" width="7.8" height="16.4" fill="#F6465D"/>
<rect x="2464.15" y="973.7" width="2" height="32.2" fill="#F6465D"/>
<rect x="2461.25" y="975.9" width="7.8" height="28.5" fill="#F6465D"/>
<rect x="2475.49" y="975.5" width="2" height="51.2" fill="#2EBD85"/>
<rect x="2472.59" y="982.9" width="7.8" height="21.5" fill="#2EBD85"/>
<rect x="2486.82" y="975.1" width="2" height="35.4" fill="#F6465D"/>
<rect x="2483.92" y="982.5" width="7.8" height="19.3" fill="#F6465D"/>
<rect x="2498.16" y="973.0" width="2" height="33.3" fill="#2EBD85"/>
<rect x="2495.26" y="973.1" width="7.8" height="28.7" fill="#2EBD85"/>
<rect x="2509.50" y="933.1" width="2" height="48.5" fill="#2EBD85"/>
<rect x="2506.60" y="937.8" width="7.8" height="37.3" fill="#2EBD85"/>
<rect x="2520.83" y="925.8" width="2" height="24.2" fill="#F6465D"/>
<rect x="2517.93" y="937.8" width="7.8" height="11.9" fill="#F6465D"/>
<rect x="2532.17" y="923.0" width="2" height="28.9" fill="#2EBD85"/>
<rect x="2529.27" y="932.2" width="7.8" height="17.5" fill="#2EBD85"/>
<rect x="2543.50" y="911.5" width="2" height="23.9" fill="#2EBD85"/>
<rect x="2540.60" y="912.0" width="7.8" height="21.7" fill="#2EBD85"/>
<rect x="2554.84" y="911.5" width="2" height="43.7" fill="#F6465D"/>
<rect x="2551.94" y="912.0" width="7.8" height="42.0" fill="#F6465D"/>
<rect x="2566.17" y="949.7" width="2" height="64.5" fill="#F6465D"/>
<rect x="2563.27" y="953.4" width="7.8" height="45.5" fill="#F6465D"/>
<rect x="2577.51" y="988.9" width="2" height="34.8" fill="#F6465D"/>
<rect x="2574.61" y="997.6" width="7.8" height="17.1" fill="#F6465D"/>
<rect x="2588.84" y="977.3" width="2" height="40.2" fill="#2EBD85"/>
<rect x="2585.94" y="980.7" width="7.8" height="34.0" fill="#2EBD85"/>
<rect x="2600.18" y="980.5" width="2" height="21.3" fill="#F6465D"/>
<rect x="2597.28" y="980.7" width="7.8" height="6.4" fill="#F6465D"/>
<rect x="2611.51" y="957.1" width="2" height="39.9" fill="#2EBD85"/>
<rect x="2608.61" y="969.1" width="7.8" height="18.0" fill="#2EBD85"/>
<rect x="2622.85" y="963.0" width="2" height="51.2" fill="#F6465D"/>
<rect x="2619.95" y="969.1" width="7.8" height="33.5" fill="#F6465D"/>
<rect x="2634.19" y="995.8" width="2" height="18.4" fill="#F6465D"/>
<rect x="2631.29" y="1001.3" width="7.8" height="8.3" fill="#F6465D"/>
<rect x="2645.52" y="1005.0" width="2" height="59.5" fill="#F6465D"/>
<rect x="2642.62" y="1008.6" width="7.8" height="55.8" fill="#F6465D"/>
<rect x="2656.86" y="1007.0" width="2" height="57.5" fill="#2EBD85"/>
<rect x="2653.96" y="1007.2" width="7.8" height="57.2" fill="#2EBD85"/>
<rect x="2668.19" y="963.0" width="2" height="48.8" fill="#2EBD85"/>
<rect x="2665.29" y="976.4" width="7.8" height="32.2" fill="#2EBD85"/>
<polyline points="-6.0,1069.6 5.3,1066.5 16.7,1064.4 28.0,1062.4 39.4,1060.6 50.7,1058.5 62.0,1055.9 73.4,1052.4 84.7,1048.4 96.0,1044.7 107.4,1041.6 118.7,1039.0 130.0,1036.9 141.4,1035.0 152.7,1033.5 164.0,1032.0 175.4,1030.6 186.7,1029.0 198.1,1027.4 209.4,1025.8 220.7,1024.1 232.1,1022.4 243.4,1020.5 254.7,1018.4 266.1,1016.0 277.4,1013.4 288.7,1010.6 300.1,1007.5 311.4,1003.9 322.7,999.5 334.1,994.7 345.4,989.7 356.8,984.8 368.1,979.9 379.4,974.9 390.8,969.9 402.1,964.5 413.4,958.8 424.8,952.7 436.1,946.3 447.4,939.7 458.8,932.8 470.1,925.9 481.4,919.0 492.8,912.1 504.1,905.1 515.4,898.2 526.8,891.3 538.1,884.6 549.5,878.1 560.8,871.6 572.1,865.2 583.5,858.6 594.8,852.0 606.1,845.7 617.5,839.9 628.8,834.6 640.1,829.6 651.5,825.0 662.8,820.5 674.1,816.1 685.5,811.7 696.8,807.0 708.2,802.3 719.5,797.5 730.8,792.6 742.2,787.6 753.5,782.5 764.8,777.2 776.2,771.9 787.5,766.7 798.8,761.7 810.2,757.0 821.5,752.6 832.8,748.3 844.2,744.0 855.5,739.7 866.8,735.7 878.2,731.7 889.5,728.0 900.9,724.5 912.2,721.1 923.5,718.2 934.9,715.7 946.2,713.5 957.5,711.4 968.9,709.1 980.2,706.6 991.5,704.1 1002.9,701.7 1014.2,699.3 1025.5,697.0 1036.9,694.7 1048.2,692.3 1059.6,689.6 1070.9,686.5 1082.2,683.2 1093.6,679.9 1104.9,676.8 1116.2,673.9 1127.6,671.2 1138.9,668.6 1150.2,665.8 1161.6,663.1 1172.9,660.3 1184.2,657.8 1195.6,655.3 1206.9,652.9 1218.2,650.5 1229.6,648.2 1240.9,645.8 1252.3,643.3 1263.6,640.5 1274.9,637.5 1286.3,634.3 1297.6,631.1 1308.9,628.0 1320.3,625.2 1331.6,622.6 1342.9,620.2 1354.3,617.9 1365.6,615.8 1376.9,614.2 1388.3,612.8 1399.6,611.8 1411.0,611.4 1422.3,612.1 1433.6,613.8 1445.0,616.7 1456.3,620.1 1467.6,623.8 1479.0,627.7 1490.3,631.7 1501.6,636.0 1513.0,640.5 1524.3,645.1 1535.6,649.8 1547.0,654.6 1558.3,659.4 1569.6,664.2 1581.0,669.1 1592.3,674.0 1603.7,678.9 1615.0,684.0 1626.3,689.2 1637.7,694.5 1649.0,699.8 1660.3,705.0 1671.7,710.1 1683.0,715.0 1694.3,719.7 1705.7,724.2 1717.0,728.6 1728.3,732.7 1739.7,736.8 1751.0,740.6 1762.4,744.3 1773.7,747.9 1785.0,751.1 1796.4,754.1 1807.7,757.1 1819.0,760.3 1830.4,763.7 1841.7,767.1 1853.0,770.2 1864.4,772.8 1875.7,774.8 1887.0,776.3 1898.4,776.8 1909.7,776.0 1921.0,774.2 1932.4,771.4 1943.7,768.3 1955.1,764.9 1966.4,761.5 1977.7,758.2 1989.1,755.1 2000.4,752.2 2011.7,749.3 2023.1,746.6 2034.4,743.9 2045.7,741.5 2057.1,739.1 2068.4,736.8 2079.7,734.6 2091.1,732.4 2102.4,730.5 2113.8,728.9 2125.1,727.5 2136.4,726.4 2147.8,725.6 2159.1,725.2 2170.4,725.0 2181.8,725.0 2193.1,725.3 2204.4,725.8 2215.8,726.3 2227.1,727.1 2238.4,728.3 2249.8,729.9 2261.1,731.9 2272.4,734.2 2283.8,736.6 2295.1,739.4 2306.5,742.4 2317.8,745.6 2329.1,748.9 2340.5,752.3 2351.8,755.8 2363.1,759.2 2374.5,762.5 2385.8,765.7 2397.1,768.7 2408.5,771.5 2419.8,774.1 2431.1,776.5 2442.5,778.8 2453.8,781.1 2465.2,783.4 2476.5,785.6 2487.8,787.6 2499.2,789.5 2510.5,791.1 2521.8,792.4 2533.2,793.2 2544.5,793.4 2555.8,793.2 2567.2,792.7 2578.5,792.2 2589.8,791.6 2601.2,790.8 2612.5,790.2 2623.9,789.7 2635.2,789.4 2646.5,789.4 2657.9,789.5 2669.2,789.5" fill="none" stroke="#752DAD" stroke-width="2.0" stroke-linejoin="round" stroke-linecap="round"/>
<polyline points="-6.0,881.0 5.3,877.3 16.7,874.6 28.0,873.9 39.4,872.7 50.7,870.4 62.0,867.4 73.4,861.8 84.7,856.6 96.0,855.0 107.4,853.8 118.7,855.6 130.0,858.4 141.4,861.5 152.7,868.6 164.0,877.0 175.4,885.7 186.7,894.2 198.1,901.1 209.4,906.6 220.7,912.8 232.1,918.2 243.4,923.6 254.7,926.0 266.1,926.7 277.4,927.8 288.7,928.7 300.1,928.6 311.4,925.5 322.7,917.2 334.1,907.4 345.4,901.4 356.8,895.1 368.1,888.3 379.4,879.9 390.8,869.6 402.1,857.5 413.4,842.7 424.8,827.7 436.1,809.9 447.4,788.0 458.8,767.5 470.1,748.3 481.4,729.0 492.8,710.4 504.1,691.9 515.4,673.4 526.8,654.0 538.1,636.9 549.5,623.0 560.8,608.9 572.1,596.4 583.5,584.1 594.8,573.1 606.1,568.2 617.5,564.5 628.8,559.3 640.1,556.4 651.5,554.9 662.8,553.3 674.1,552.3 685.5,551.0 696.8,551.9 708.2,552.5 719.5,553.2 730.8,556.1 742.2,560.2 753.5,563.3 764.8,565.9 776.2,566.4 787.5,567.4 798.8,566.7 810.2,567.6 821.5,568.3 832.8,568.6 844.2,567.7 855.5,564.1 866.8,562.3 878.2,561.8 889.5,561.7 900.9,565.0 912.2,566.5 923.5,567.5 934.9,569.4 946.2,574.7 957.5,577.4 968.9,581.4 980.2,582.8 991.5,584.4 1002.9,584.3 1014.2,584.5 1025.5,583.3 1036.9,582.7 1048.2,583.4 1059.6,584.3 1070.9,584.0 1082.2,585.0 1093.6,585.1 1104.9,586.3 1116.2,587.2 1127.6,590.8 1138.9,595.8 1150.2,598.6 1161.6,600.9 1172.9,601.8 1184.2,599.8 1195.6,600.4 1206.9,599.2 1218.2,598.0 1229.6,594.5 1240.9,595.2 1252.3,595.2 1263.6,596.2 1274.9,598.2 1286.3,603.0 1297.6,606.1 1308.9,610.3 1320.3,616.2 1331.6,623.2 1342.9,632.3 1354.3,640.8 1365.6,650.3 1376.9,660.1 1388.3,669.4 1399.6,677.7 1411.0,687.4 1422.3,700.8 1433.6,715.3 1445.0,731.9 1456.3,750.2 1467.6,768.6 1479.0,784.6 1490.3,802.9 1501.6,820.9 1513.0,838.1 1524.3,851.1 1535.6,865.5 1547.0,880.9 1558.3,897.6 1569.6,910.1 1581.0,923.6 1592.3,935.6 1603.7,947.9 1615.0,958.5 1626.3,969.7 1637.7,981.1 1649.0,991.4 1660.3,1001.3 1671.7,1011.9 1683.0,1022.2 1694.3,1029.9 1705.7,1033.9 1717.0,1035.3 1728.3,1031.6 1739.7,1028.3 1751.0,1024.5 1762.4,1021.4 1773.7,1016.1 1785.0,1010.6 1796.4,1001.7 1807.7,993.6 1819.0,988.5 1830.4,984.4 1841.7,978.0 1853.0,974.5 1864.4,972.1 1875.7,962.2 1887.0,951.0 1898.4,938.5 1909.7,911.2 1921.0,883.2 1932.4,852.2 1943.7,819.0 1955.1,784.8 1966.4,750.4 1977.7,715.2 1989.1,680.5 2000.4,653.4 2011.7,628.2 2023.1,604.0 2034.4,579.4 2045.7,558.2 2057.1,538.6 2068.4,518.6 2079.7,503.6 2091.1,487.8 2102.4,467.6 2113.8,449.0 2125.1,430.6 2136.4,411.8 2147.8,394.7 2159.1,388.2 2170.4,380.8 2181.8,375.8 2193.1,382.2 2204.4,393.5 2215.8,405.9 2227.1,421.0 2238.4,438.9 2249.8,462.2 2261.1,489.2 2272.4,515.2 2283.8,535.2 2295.1,556.8 2306.5,579.9 2317.8,604.8 2329.1,625.1 2340.5,648.2 2351.8,670.6 2363.1,692.5 2374.5,713.8 2385.8,737.7 2397.1,758.3 2408.5,778.9 2419.8,797.4 2431.1,813.6 2442.5,828.7 2453.8,845.0 2465.2,861.5 2476.5,879.0 2487.8,893.8 2499.2,909.7 2510.5,923.8 2521.8,935.9 2533.2,942.6 2544.5,945.8 2555.8,950.0 2567.2,956.9 2578.5,964.0 2589.8,965.9 2601.2,966.9 2612.5,968.8 2623.9,968.6 2635.2,969.2 2646.5,971.4 2657.9,973.9 2669.2,973.6" fill="none" stroke="#EB40B5" stroke-width="1.8" stroke-linejoin="round" stroke-linecap="round"/>
<polyline points="-6.0,858.5 5.3,868.7 16.7,876.2 28.0,882.5 39.4,886.1 50.7,888.2 62.0,885.6 73.4,879.1 84.7,869.6 96.0,861.6 107.4,856.8 118.7,856.2 130.0,860.6 141.4,869.5 152.7,893.4 164.0,928.1 175.4,955.7 186.7,972.6 198.1,986.5 209.4,995.6 220.7,1007.9 232.1,1008.1 243.4,1000.6 254.7,987.9 266.1,973.0 277.4,959.1 288.7,946.8 300.1,931.8 311.4,908.8 322.7,863.2 334.1,821.6 345.4,793.8 356.8,762.2 368.1,725.4 379.4,687.7 390.8,657.0 402.1,643.1 413.4,629.5 424.8,606.0 436.1,589.1 447.4,570.0 458.8,554.1 470.1,539.4 481.4,527.4 492.8,523.2 504.1,523.1 515.4,520.9 526.8,522.1 538.1,521.7 549.5,525.3 560.8,530.3 572.1,539.6 583.5,546.5 594.8,550.5 606.1,556.6 617.5,562.8 628.8,566.3 640.1,574.9 651.5,577.2 662.8,577.8 674.1,582.7 685.5,581.7 696.8,584.6 708.2,581.7 719.5,577.5 730.8,574.3 742.2,578.7 753.5,578.5 764.8,580.8 776.2,574.9 787.5,576.5 798.8,569.0 810.2,563.4 821.5,550.6 832.8,544.6 844.2,536.4 855.5,531.7 866.8,528.4 878.2,532.9 889.5,535.4 900.9,551.3 912.2,558.6 923.5,574.3 934.9,596.0 946.2,621.9 957.5,638.4 968.9,652.1 980.2,647.8 991.5,645.7 1002.9,637.6 1014.2,628.3 1025.5,609.5 1036.9,597.5 1048.2,587.7 1059.6,580.3 1070.9,574.9 1082.2,571.6 1093.6,565.6 1104.9,561.3 1116.2,560.6 1127.6,563.1 1138.9,572.7 1150.2,580.7 1161.6,589.8 1172.9,594.7 1184.2,599.6 1195.6,606.0 1206.9,604.3 1218.2,604.2 1229.6,607.1 1240.9,617.9 1252.3,628.8 1263.6,634.9 1274.9,637.8 1286.3,651.1 1297.6,657.2 1308.9,666.2 1320.3,672.6 1331.6,687.5 1342.9,709.4 1354.3,727.1 1365.6,740.4 1376.9,758.5 1388.3,772.3 1399.6,780.1 1411.0,792.4 1422.3,817.3 1433.6,846.7 1445.0,881.3 1456.3,916.6 1467.6,953.7 1479.0,987.8 1490.3,1016.7 1501.6,1033.1 1513.0,1045.5 1524.3,1043.4 1535.6,1040.3 1547.0,1036.2 1558.3,1041.3 1569.6,1034.1 1581.0,1023.7 1592.3,1014.3 1603.7,1018.2 1615.0,1019.9 1626.3,1026.5 1637.7,1025.4 1649.0,1030.9 1660.3,1036.3 1671.7,1044.7 1683.0,1045.7 1694.3,1047.3 1705.7,1046.6 1717.0,1040.1 1728.3,1024.8 1739.7,1012.9 1751.0,999.0 1762.4,984.9 1773.7,967.6 1785.0,949.7 1796.4,925.7 1807.7,907.9 1819.0,898.1 1830.4,892.9 1841.7,886.4 1853.0,885.4 1864.4,886.3 1875.7,873.1 1887.0,866.0 1898.4,841.3 1909.7,765.0 1921.0,686.7 1932.4,594.2 1943.7,489.5 1955.1,411.3 1966.4,329.2 1977.7,249.7 1989.1,222.8 2000.4,219.4 2011.7,224.7 2023.1,245.1 2034.4,265.3 2045.7,298.6 2057.1,337.0 2068.4,371.3 2079.7,390.7 2091.1,406.5 2102.4,411.0 2113.8,427.2 2125.1,430.5 2136.4,432.5 2147.8,443.7 2159.1,461.0 2170.4,483.8 2181.8,513.2 2193.1,526.4 2204.4,554.4 2215.8,573.1 2227.1,583.5 2238.4,592.4 2249.8,620.1 2261.1,654.7 2272.4,698.0 2283.8,725.5 2295.1,763.4 2306.5,812.5 2317.8,857.7 2329.1,880.3 2340.5,905.1 2351.8,926.3 2363.1,952.3 2374.5,967.4 2385.8,974.8 2397.1,975.5 2408.5,979.5 2419.8,965.3 2431.1,954.4 2442.5,947.7 2453.8,952.2 2465.2,955.3 2476.5,957.6 2487.8,964.8 2499.2,974.3 2510.5,976.9 2521.8,975.2 2533.2,968.8 2544.5,955.6 2555.8,951.5 2567.2,951.1 2578.5,957.0 2589.8,963.2 2601.2,968.5 2612.5,973.8 2623.9,986.7 2635.2,994.7 2646.5,1004.0 2657.9,1003.0 2669.2,1002.3" fill="none" stroke="#F0B90B" stroke-width="1.8" stroke-linejoin="round" stroke-linecap="round"/>
<text x="1880.3" y="118" font-family="Liberation Sans, sans-serif" font-size="16.9" fill="#111" stroke="#111" stroke-width="0.3">114,000.00</text>
<rect x="1969" y="109.8" width="20" height="2" fill="#222"/>
<text x="65.1" y="1104" font-family="Liberation Sans, sans-serif" font-size="16.9" fill="#111" stroke="#111" stroke-width="0.3">107,402.52</text>
<rect x="155" y="1095.7" width="20.5" height="2" fill="#222"/>
<rect x="0" y="71" width="2" height="1069" fill="#EDEDED"/>
<rect x="0" y="1137.5" width="2940" height="2.5" fill="#EDEDED"/>
<rect x="2800" y="71" width="2" height="1067" fill="#EDEDED"/>
<g font-family="Liberation Sans, sans-serif" font-size="20" letter-spacing="0.3" fill="#6E6E6E" stroke="#6E6E6E" stroke-width="0.25">
<text x="2815.6" y="119.5">114,000.00</text>
<text x="2815.6" y="194.0">113,500.00</text>
<text x="2815.6" y="268.4">113,000.00</text>
<text x="2815.6" y="342.9">112,500.00</text>
<text x="2815.6" y="417.4">112,000.00</text>
<text x="2815.6" y="491.9">111,500.00</text>
<text x="2815.6" y="566.4">111,000.00</text>
<text x="2815.6" y="640.9">110,500.00</text>
<text x="2815.6" y="715.4">110,000.00</text>
<text x="2815.6" y="789.9">109,500.00</text>
<text x="2815.6" y="864.4">109,000.00</text>
<text x="2815.6" y="938.9">108,500.00</text>
<text x="2815.6" y="1013.4">108,000.00</text>
<text x="2815.6" y="1087.9">107,500.00</text>
</g>
<rect x="2801.5" y="957.4" width="133.5" height="39" rx="6" fill="#2EBD85"/>
<text x="2816.6" y="988.7" font-family="Liberation Sans, sans-serif" font-size="20" letter-spacing="0.4" fill="#fff" stroke="#fff" stroke-width="0.3">108,197.10</text>
<rect x="2672" y="1087.5" width="36" height="36" rx="9" fill="#fff" fill-opacity="0.9" stroke="#EEEEEE" stroke-width="1.2"/>
<path d="M2686.6,1095 H2701 V1108.5 Q2701,1114 2695.5,1114 H2685.2 Q2686.6,1113 2686.6,1111 Z" fill="#929AA5"/>
<rect x="2689.8" y="1099.8" width="8" height="2.6" fill="#fff"/><rect x="2689.8" y="1105.2" width="8" height="2.8" fill="#fff"/>
<path d="M2679.8,1101.8 H2684.3 V1112.8 H2681.3 Z" fill="#F0B90B"/>
<circle cx="2708.4" cy="1086.6" r="7.6" fill="#FCD535"/>
<path d="M31.5,91.7 L39.5,98.7 L31.5,105.7" fill="none" stroke="#909090" stroke-width="1.8" stroke-linecap="round" stroke-linejoin="round"/>
<path d="M31.5,136 L39.5,143 L31.5,150" fill="none" stroke="#909090" stroke-width="1.8" stroke-linecap="round" stroke-linejoin="round"/>
<rect x="0" y="0" width="2940" height="1.2" fill="#EDEDED"/>
<rect x="0" y="69" width="2940" height="2" fill="#EDEDED"/>
<rect x="28" y="16" width="39.5" height="39.5" rx="9" fill="#fff" stroke="#ECECEC" stroke-width="1.2"/>
<polygon points="47.50,25.90 50.50,32.57 57.77,33.36 52.35,38.28 53.85,45.44 47.50,41.80 41.15,45.44 42.65,38.28 37.23,33.36 44.50,32.57" fill="none" stroke="#B0B0B0" stroke-width="1.9" stroke-linejoin="round"/>
<circle cx="129.4" cy="35.4" r="20" fill="#E9EDF1"/>
<circle cx="129.4" cy="35.4" r="18.5" fill="#F7931A"/>
<g transform="translate(129.0,35.3) rotate(14) scale(1.18,1.07)" fill="#fff"><path fill-rule="evenodd" d="M-7,-8 H1.5 C4.5,-8 5.8,-6 5.8,-4.2 C5.8,-2.4 4.8,-1.2 3.4,-0.7 C5.6,-0.3 7,1.3 7,3.6 C7,6.4 4.9,8 1.8,8 H-7 V5.6 H-4.6 V-5.6 H-7 Z M-1.2,-5.3 H0.6 C1.9,-5.3 2.6,-4.7 2.6,-3.7 C2.6,-2.7 1.9,-2.1 0.6,-2.1 H-1.2 Z M-1.2,0.9 H1 C2.6,0.9 3.5,1.7 3.5,3 C3.5,4.4 2.6,5.2 1,5.2 H-1.2 Z"/><rect x="-2.7" y="-11" width="2.2" height="3.4"/><rect x="1.3" y="-11" width="2.2" height="3.4"/><rect x="-2.7" y="7.6" width="2.2" height="3.4"/><rect x="1.3" y="7.6" width="2.2" height="3.4"/></g>
<text x="190.6" y="31.5" font-family="Liberation Sans, sans-serif" font-weight="bold" font-size="31" letter-spacing="0.45" fill="#0B0B0B">BTC/USDT</text>
<path d="M366.6,17 H379.6 Q380.6,17 380,17.9 L374,25 Q373.1,26 372.2,25 L366.2,17.9 Q365.6,17 366.6,17 Z" fill="#0B0B0B"/>
<text x="190.2" y="62.9" font-family="Liberation Sans, sans-serif" font-size="21.7" letter-spacing="0.8" fill="#9E9E9E" stroke="#9E9E9E" stroke-width="0.4">Bitcoin Price</text>
<path d="M328.5,57.5 L335.5,50.5 M329.5,50.5 H335.5 V56.5" fill="none" stroke="#9E9E9E" stroke-width="1.3"/>
<g font-family="Liberation Sans, sans-serif" font-weight="bold" font-size="22.8" fill="#9E9E9E">
<text x="445.5" y="42.7">Time</text>
<text x="516" y="42.7">1s</text>
<text x="622.1" y="42.7">1H</text>
<text x="669.4" y="42.7">4H</text>
<text x="718.2" y="42.7">1D</text>
<text x="766.4" y="42.7">1W</text>
</g>
<g font-family="Liberation Sans, sans-serif" font-weight="bold" font-size="22.6" fill="#9E9E9E"><text x="2681.2" y="42.7">Trading View</text><text x="2847.7" y="42.7">Depth</text></g>
<g font-family="Liberation Sans, sans-serif" font-weight="bold" fill="#0B0B0B"><text x="558" y="42.7" font-size="22.8">15m</text><text x="2569.5" y="42.7" font-size="22.6">Original</text></g>
<path d="M830,32.3 H841.4 L835.7,39.4 Z" fill="#9E9E9E" stroke="#9E9E9E" stroke-width="0.6" stroke-linejoin="round"/>
<g fill="none" stroke="#9E9E9E" stroke-width="1.8" stroke-linejoin="round" stroke-linecap="round"><rect x="879.2" y="28.4" width="20.8" height="17.8" rx="1.5"/><path d="M879.2,33.1 H900 M883.9,24.6 V28.4 M895,24.6 V28.4 M894,40.5 H886 M889.3,37 L885.8,40.5 L889.3,44"/></g>
<g fill="none" stroke="#9E9E9E" stroke-width="1.8" stroke-linejoin="round" stroke-linecap="round"><path d="M934.6,24.5 V46.4 H956.5 M937.8,42 L945.3,35.6 L948.4,39 L955.3,33"/></g>
<path d="M938.5,25.4 H945.3 L941.9,29.4 Z" fill="#9E9E9E"/>
<g fill="none" stroke="#9E9E9E" stroke-width="1.8" stroke-linejoin="round" stroke-linecap="round"><rect x="990.6" y="31.4" width="6.2" height="8.4" rx="0.8"/><path d="M993.7,27.2 V31.4 M993.7,39.8 V43.8"/><rect x="1002.2" y="29.1" width="6.2" height="12.4" rx="0.8"/><path d="M1005.3,25.2 V29.1 M1005.3,41.5 V46.2"/></g>
<g fill="none" stroke="#9E9E9E" stroke-width="1.8" stroke-linejoin="round" stroke-linecap="round"><path d="M1043,26.1 H1064.2 M1043,34.2 H1048.2 M1043,41.9 H1048.2"/><path d="M1058.10,31.70 L1064.51,35.40 L1064.51,42.80 L1058.10,46.50 L1051.69,42.80 L1051.69,35.40 Z"/></g>
<path d="M1058.1,36.7 L1060.5,39.1 L1058.1,41.5 L1055.6999999999998,39.1 Z" fill="#9E9E9E"/>
<g fill="none" stroke="#9E9E9E" stroke-width="1.8" stroke-linejoin="round" stroke-linecap="round"><path d="M1107.40,25.40 L1116.23,30.50 L1116.23,40.70 L1107.40,45.80 L1098.57,40.70 L1098.57,30.50 Z"/></g>
<path d="M1107.4,32.0 L1111.0,35.6 L1107.4,39.2 L1103.8000000000002,35.6 Z" fill="#9E9E9E"/>
</svg>
</body></html>
